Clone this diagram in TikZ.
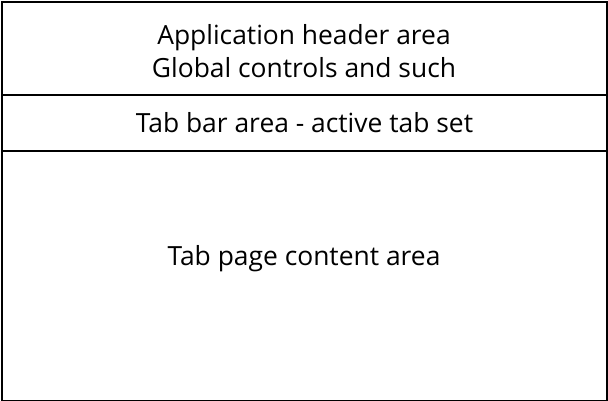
\documentclass[tikz,border=0pt]{standalone}
\usepackage{fontspec}
\setmainfont{Open Sans}
\usepackage{tikz}
\usetikzlibrary{positioning}
\tikzstyle{area} = [rectangle, minimum width=604pt, inner sep=0pt, text centered, align=center, draw=black, line width=1pt, fill=white]
\tikzstyle{frame} = [draw=black, line width=2.5pt]

\begin{document}
\begin{tikzpicture}[x=1pt, y=-1pt, font=\fontsize{26.4}{33}\selectfont]
    \useasboundingbox (0,0) rectangle (608,400);

    \node (header) [area, minimum height=92pt, anchor=north west] at (2, 2) {};
    \node (headertext) [align=center] at (304, 51) {Application header area\\Global controls and such};
    \node (tabbar) [area, minimum height=55pt, below=0pt of header] {Tab bar area - active tab set};
    \node (content) [area, minimum height=249pt, below=0pt of tabbar] {};
    \node (contenttext) at (304, 259) {Tab page content area};

    \draw [frame] (header.north west) rectangle (content.south east);

\end{tikzpicture}
\end{document}
